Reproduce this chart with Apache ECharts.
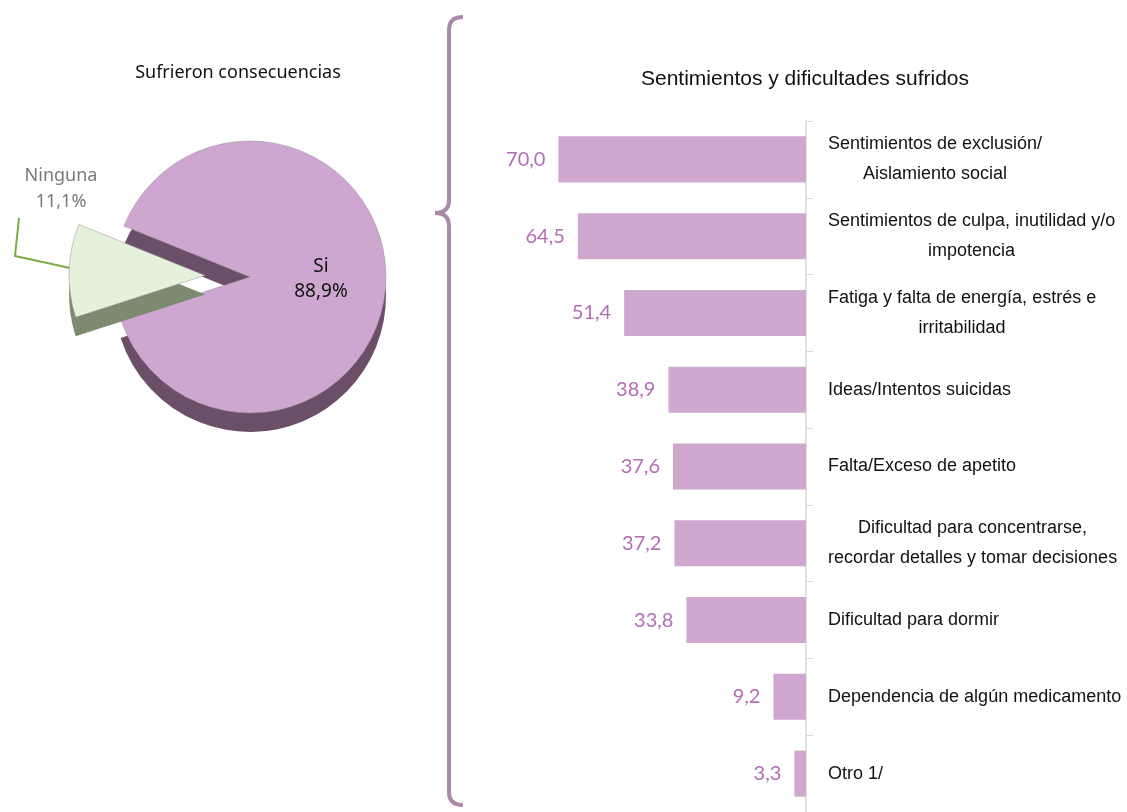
<!DOCTYPE html>
<html>
<head>
<meta charset="utf-8">
<script src="https://cdn.jsdelivr.net/npm/echarts@6/dist/echarts.min.js"></script>
<style>
  html, body { margin: 0; padding: 0; background: #fff; }
  #main { width: 1127px; height: 812px; }
</style>
</head>
<body>
<div id="main"></div>
<script>
// pie: consequences
var pieNames = ['Si', 'Ninguna']
var pieValues = [88.9, 11.1]

// bars: feelings and difficulties
var categories = [
  'Sentimientos de exclusión/\nAislamiento social',
  'Sentimientos de culpa, inutilidad y/o\nimpotencia',
  'Fatiga y falta de energía, estrés e\nirritabilidad',
  'Ideas/Intentos suicidas',
  'Falta/Exceso de apetito',
  'Dificultad para concentrarse,\nrecordar detalles y tomar decisiones',
  'Dificultad para dormir',
  'Dependencia de algún medicamento',
  'Otro 1/'
]
var barValues = [70.0, 64.5, 51.4, 38.9, 37.6, 37.2, 33.8, 9.2, 3.3]

var sans = "'Liberation Sans', Arial, sans-serif"
var fmt = function (v) { return v.toFixed(1).replace('.', ',') }

var chart = echarts.init(document.getElementById('main'))

var pieData = pieNames.map(function (n, i) {
  return { name: n, value: pieValues[i], selected: i === 1 }
})

var braceStyle = { fill: 'none', stroke: '#a98aa9', lineWidth: 4 }

chart.setOption({
  animation: false,
  title: [
    {
      text: 'Sufrieron consecuencias',
      left: 233, top: 59, textAlign: 'center',
      textStyle: { fontFamily: "'Noto Sans', sans-serif", fontSize: 18, fontWeight: 'normal', color: '#111' }
    },
    {
      text: 'Sentimientos y dificultades sufridos',
      left: 800, top: 64, textAlign: 'center',
      textStyle: { fontFamily: sans, fontSize: 21, fontWeight: 'normal', color: '#111' }
    }
  ],
  grid: { left: 523, right: 321, top: 121, bottom: -2 },
  xAxis: {
    type: 'value', inverse: true, min: 0, max: 80,
    show: false
  },
  yAxis: {
    type: 'category', inverse: true, position: 'right',
    data: categories,
    axisLine: { lineStyle: { color: '#d9d9d9', width: 1.5 } },
    axisTick: { show: true, length: 7, lineStyle: { color: '#d9d9d9' } },
    axisLabel: {
      margin: 22, align: 'left', color: '#111',
      fontFamily: sans, fontSize: 18,
      formatter: function (v) {
        return v.split('\n').map(function (l) { return '{c|' + l + '}' }).join('\n')
      },
      rich: { c: { align: 'center', fontFamily: sans, fontSize: 18, lineHeight: 30, color: '#111' } }
    }
  },
  series: [
    {
      // side of the pie (depth)
      type: 'pie', silent: true,
      center: [250, 296], radius: 136, startAngle: 158,
      selectedMode: 'single', selectedOffset: 45,
      label: { show: false }, labelLine: { show: false },
      itemStyle: {
        color: function (p) { return ['#6b4f69', '#7c8a6f'][p.dataIndex] }
      },
      data: pieData
    },
    {
      type: 'pie',
      center: [250, 277], radius: 136, startAngle: 158,
      selectedMode: 'single', selectedOffset: 45,
      itemStyle: {
        color: function (p) { return ['#cda7cf', '#e4f2dc'][p.dataIndex] },
        borderColor: '#9a8a9a', borderWidth: 0.5
      },
      label: {
        position: 'inside', color: '#111',
        fontFamily: "'Noto Sans', sans-serif", fontSize: 19, lineHeight: 25,
        formatter: function (p) { return p.dataIndex === 0 ? p.name + '\n' + fmt(p.value) + '%' : '' }
      },
      labelLine: { show: false },
      data: pieData
    },
    {
      type: 'bar',
      data: barValues,
      barCategoryGap: '40%',
      itemStyle: { color: '#cfa8d0' },
      label: {
        show: true, position: 'left', distance: 13,
        color: '#b46db4', fontFamily: "Lato, sans-serif", fontSize: 20,
        formatter: function (p) { return fmt(p.value) }
      }
    }
  ],
  graphic: [
    // outside label of the small slice
    {
      type: 'text', x: 61, y: 163,
      style: {
        text: pieNames[1] + '\n' + fmt(pieValues[1]) + '%',
        align: 'center', fill: '#7a7a7a',
        font: "18px 'Noto Sans', sans-serif", lineHeight: 26
      }
    },
    {
      type: 'polyline',
      shape: { points: [[70, 268], [15, 256], [19, 218]] },
      style: { stroke: '#7aab44', lineWidth: 2, fill: 'none' }
    },
    // curly brace
    { type: 'bezierCurve', shape: { x1: 463, y1: 17, x2: 449, y2: 30, cpx1: 449, cpy1: 17 }, style: braceStyle },
    { type: 'line', shape: { x1: 449, y1: 30, x2: 449, y2: 200 }, style: braceStyle },
    { type: 'bezierCurve', shape: { x1: 449, y1: 200, x2: 435, y2: 213, cpx1: 449, cpy1: 213 }, style: braceStyle },
    { type: 'bezierCurve', shape: { x1: 435, y1: 213, x2: 449, y2: 226, cpx1: 449, cpy1: 213 }, style: braceStyle },
    { type: 'line', shape: { x1: 449, y1: 226, x2: 449, y2: 792 }, style: braceStyle },
    { type: 'bezierCurve', shape: { x1: 449, y1: 792, x2: 463, y2: 805, cpx1: 449, cpy1: 805 }, style: braceStyle }
  ]
})
</script>
</body>
</html>
